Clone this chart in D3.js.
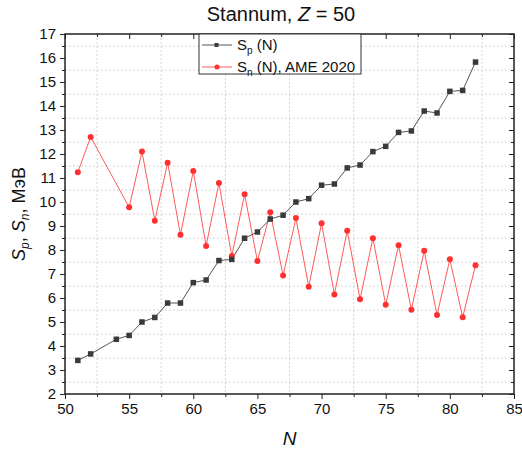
<!DOCTYPE html>
<html>
<head>
<meta charset="utf-8" />
<title>Stannum, Z = 50</title>
<style>
body { margin: 0; background: #fff; }
svg text { font-family: "Liberation Sans", Arial, sans-serif; fill: #111; }
.grid line { stroke: #d4d4d4; stroke-dasharray: 2,2; stroke-width: 1; }
.axis path, .axis line { stroke: #222; }
</style>
</head>
<body>
<svg width="522" height="452"></svg>
<script src="https://d3js.org/d3.v7.min.js"></script>
<script>

// S_p (N)
var spN = [51,52,54,55,56,57,58,59,60,61,62,63,64,65,66,67,68,69,70,71,72,73,74,75,76,77,78,79,80,81,82];
var spVal = [3.40,3.67,4.28,4.44,5.00,5.19,5.79,5.79,6.64,6.75,7.56,7.61,8.49,8.75,9.29,9.45,10.00,10.14,10.70,10.75,11.42,11.54,12.10,12.32,12.90,12.96,13.79,13.71,14.61,14.65,15.83];

// S_n (N), AME 2020
var snN = [51,52,55,56,57,58,59,60,61,62,63,64,65,66,67,68,69,70,71,72,73,74,75,76,77,78,79,80,81,82];
var snVal = [11.24,12.71,9.78,12.10,9.22,11.64,8.64,11.29,8.17,10.79,7.75,10.32,7.54,9.57,6.94,9.33,6.47,9.11,6.15,8.80,5.95,8.49,5.72,8.20,5.51,7.97,5.29,7.61,5.20,7.36];

var xTicks = [50,55,60,65,70,75,80,85];
var yTicks = [2,3,4,5,6,7,8,9,10,11,12,13,14,15,16,17];

var svg = d3.select("svg"),
    margin = {top: 34, right: 8, bottom: 58, left: 65},
    width = +svg.attr("width") - margin.left - margin.right,
    height = +svg.attr("height") - margin.top - margin.bottom;

var x = d3.scaleLinear().domain([50, 85]).range([0, width]),
    y = d3.scaleLinear().domain([2, 17]).range([height, 0]);

var g = svg.append("g")
    .attr("transform", "translate(" + margin.left + "," + margin.top + ")");

// minor grid (at half steps)
var xMinor = d3.range(52.5, 85, 5),
    yMinor = d3.range(2.5, 17, 1);

g.append("g").attr("class", "grid")
  .selectAll("line").data(xMinor).enter().append("line")
    .attr("x1", d => x(d)).attr("x2", d => x(d))
    .attr("y1", 0).attr("y2", height);
g.append("g").attr("class", "grid")
  .selectAll("line").data(yMinor).enter().append("line")
    .attr("y1", d => y(d)).attr("y2", d => y(d))
    .attr("x1", 0).attr("x2", width);

// axes: major + minor ticks
function axisPair(axisFn, scale, major, minor, tr, showLabels) {
  var a = g.append("g").attr("class", "axis").attr("transform", tr);
  a.call(axisFn(scale).tickValues(minor).tickSize(3).tickFormat(""));
  a.select(".domain").remove();
  var b = g.append("g").attr("class", "axis").attr("transform", tr);
  b.call(axisFn(scale).tickValues(major).tickSize(5).tickPadding(4)
        .tickFormat(showLabels ? d3.format("d") : ""));
  b.select(".domain").remove();
  b.selectAll("text").style("font-size", "15px");
  return b;
}

axisPair(d3.axisBottom, x, xTicks, xMinor, "translate(0," + height + ")", true);
axisPair(d3.axisLeft, y, yTicks, yMinor, "translate(0,0)", true);
axisPair(d3.axisBottom, x, xTicks, xMinor, "translate(0,0)", false);
axisPair(d3.axisLeft, y, yTicks, yMinor, "translate(" + width + ",0)", false);

// frame
g.append("rect")
    .attr("width", width).attr("height", height)
    .attr("fill", "none").attr("stroke", "#222").attr("stroke-width", 1.5);

// lines
var spData = spN.map((n, i) => ({n: n, v: spVal[i]})),
    snData = snN.map((n, i) => ({n: n, v: snVal[i]}));

var line = d3.line().x(d => x(d.n)).y(d => y(d.v));

g.append("path").datum(snData)
    .attr("fill", "none").attr("stroke", "#ff5a5a").attr("stroke-width", 1)
    .attr("d", line);
g.append("path").datum(spData)
    .attr("fill", "none").attr("stroke", "#555").attr("stroke-width", 1)
    .attr("d", line);

g.selectAll(".sn").data(snData).enter().append("circle")
    .attr("class", "sn")
    .attr("cx", d => x(d.n)).attr("cy", d => y(d.v))
    .attr("r", 3).attr("fill", "#ff3030");

g.selectAll(".sp").data(spData).enter().append("rect")
    .attr("class", "sp")
    .attr("x", d => x(d.n) - 2.75).attr("y", d => y(d.v) - 2.75)
    .attr("width", 5.5).attr("height", 5.5).attr("fill", "#3a3a3a");

// legend
var lg = svg.append("g").attr("transform", "translate(199,34)");
lg.append("rect").attr("width", 162).attr("height", 40)
    .attr("fill", "#fff").attr("stroke", "#333").attr("stroke-width", 1);

var l1 = lg.append("g").attr("transform", "translate(0,11)");
l1.append("line").attr("x1", 3).attr("x2", 33).attr("stroke", "#555");
l1.append("rect").attr("x", 15.5).attr("y", -2).attr("width", 4).attr("height", 4).attr("fill", "#3a3a3a");
var t1 = l1.append("text").attr("x", 38).attr("y", 5).style("font-size", "15px");
t1.append("tspan").text("S");
t1.append("tspan").attr("dy", 4).style("font-size", "10px").text("p");
t1.append("tspan").attr("dy", -4).text(" (N)");

var l2 = lg.append("g").attr("transform", "translate(0,33)");
l2.append("line").attr("x1", 3).attr("x2", 33).attr("stroke", "#ff5a5a");
l2.append("circle").attr("cx", 18).attr("r", 2.5).attr("fill", "#ff3030");
var t2 = l2.append("text").attr("x", 38).attr("y", 5).style("font-size", "15px");
t2.append("tspan").text("S");
t2.append("tspan").attr("dy", 4).style("font-size", "10px").text("n");
t2.append("tspan").attr("dy", -4).text(" (N), AME 2020");

// title
var title = svg.append("text").attr("x", 281).attr("y", 21)
    .attr("text-anchor", "middle").style("font-size", "20px");
title.append("tspan").text("Stannum, ");
title.append("tspan").style("font-style", "italic").text("Z");
title.append("tspan").text(" = 50");

// axis titles
svg.append("text").attr("x", margin.left + width / 2).attr("y", 445)
    .attr("text-anchor", "middle").style("font-size", "19px")
    .style("font-style", "italic").text("N");

var yl = svg.append("text")
    .attr("transform", "translate(25," + (margin.top + height / 2) + ") rotate(-90)")
    .attr("text-anchor", "middle").style("font-size", "18px");
yl.append("tspan").style("font-style", "italic").text("S");
yl.append("tspan").attr("dy", 4).style("font-size", "12px").style("font-style", "italic").text("p");
yl.append("tspan").attr("dy", -4).text(", ");
yl.append("tspan").style("font-style", "italic").text("S");
yl.append("tspan").attr("dy", 4).style("font-size", "12px").style("font-style", "italic").text("n");
yl.append("tspan").attr("dy", -4).text(", МэВ");

</script>
</body>
</html>
